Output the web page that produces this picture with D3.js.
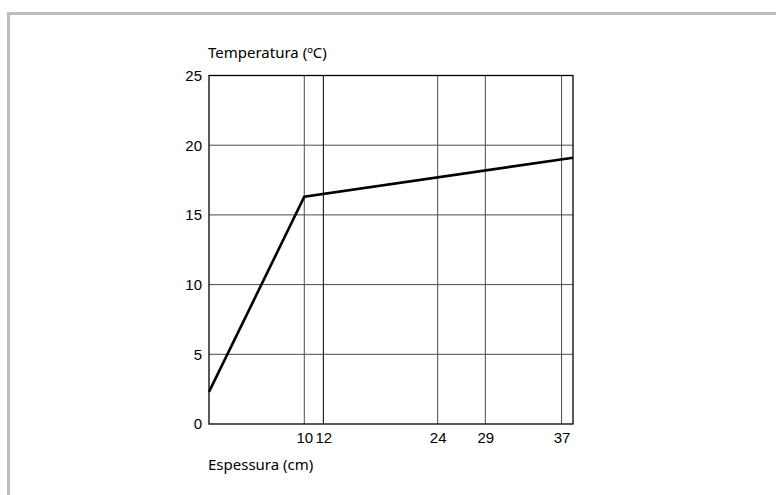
<!DOCTYPE html>
<html>
<head>
<meta charset="utf-8">
<script src="https://cdn.jsdelivr.net/npm/d3@7"></script>
<style>
  body { margin: 0; background: #fff; }
  svg { display: block; }
</style>
</head>
<body>
<div id="chart"></div>
<script>
// data
const espessura = [0, 10, 38.2];          // cm
const temperatura = [2.3, 16.3, 19.1];    // ºC
const xTicks = [10, 12, 24, 29, 37];
const yTicks = [0, 5, 10, 15, 20, 25];
const darkTicks = [12];

const width = 776, height = 495;
const marginLeft = 209, marginRight = 203, marginTop = 75.5, marginBottom = 71;

const svg = d3.select("#chart").append("svg")
    .attr("width", width)
    .attr("height", height);

// outer gray frame
svg.append("rect")
    .attr("x", 8.5).attr("y", 13.5)
    .attr("width", 900).attr("height", 700)
    .attr("fill", "none")
    .attr("stroke", "#bdbdbd")
    .attr("stroke-width", 3);

const x = d3.scaleLinear()
    .domain([0, 38.2])
    .range([marginLeft, width - marginRight]);

const y = d3.scaleLinear()
    .domain([0, 25])
    .range([height - marginBottom, marginTop]);

// grid
svg.append("g")
    .selectAll("line")
    .data(yTicks.filter(d => d > 0 && d < 25))
    .join("line")
    .attr("x1", x(0)).attr("x2", x(38.2))
    .attr("y1", d => y(d)).attr("y2", d => y(d))
    .attr("stroke", "#4a4a4a").attr("stroke-width", 1);

svg.append("g")
    .selectAll("line")
    .data(xTicks)
    .join("line")
    .attr("x1", d => x(d)).attr("x2", d => x(d))
    .attr("y1", y(0)).attr("y2", y(25))
    .attr("stroke", d => darkTicks.includes(d) ? "#000" : "#4a4a4a")
    .attr("stroke-width", 1);

// frame of the plot
svg.append("rect")
    .attr("x", x(0)).attr("y", y(25))
    .attr("width", x(38.2) - x(0))
    .attr("height", y(0) - y(25))
    .attr("fill", "none")
    .attr("stroke", "#000")
    .attr("stroke-width", 1.3);

// axes (labels only)
const xAxis = svg.append("g")
    .attr("transform", `translate(0,${y(0)})`)
    .call(d3.axisBottom(x).tickValues(xTicks).tickSize(0).tickPadding(8).tickFormat(d3.format("d")));
xAxis.select(".domain").remove();
xAxis.selectAll("text")
    .attr("font-family", "Liberation Sans, Arial, sans-serif")
    .attr("font-size", 15)
    .attr("fill", "#000");

const yAxis = svg.append("g")
    .attr("transform", `translate(${x(0)},0)`)
    .call(d3.axisLeft(y).tickValues(yTicks).tickSize(0).tickPadding(7).tickFormat(d3.format("d")));
yAxis.select(".domain").remove();
yAxis.selectAll("text")
    .attr("font-family", "Liberation Sans, Arial, sans-serif")
    .attr("font-size", 15)
    .attr("fill", "#000");

// data line
const line = d3.line()
    .x((d, i) => x(espessura[i]))
    .y(d => y(d));

svg.append("path")
    .datum(temperatura)
    .attr("d", line)
    .attr("fill", "none")
    .attr("stroke", "#000")
    .attr("stroke-width", 2.6)
    .attr("stroke-linejoin", "miter");

// axis titles
svg.append("text")
    .attr("x", 208).attr("y", 58)
    .attr("font-family", "Noto Sans, sans-serif")
    .attr("font-size", 15)
    .text("Temperatura (ºC)");

svg.append("text")
    .attr("x", 208).attr("y", 470)
    .attr("font-family", "Noto Sans, sans-serif")
    .attr("font-size", 15)
    .text("Espessura (cm)");
</script>
</body>
</html>
